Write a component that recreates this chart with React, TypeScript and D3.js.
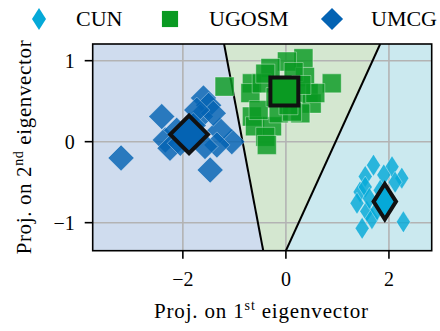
import React from "react";
import * as d3 from "d3";

// Projections of each sample on the first two eigenvectors
const umcgX = [-3.2, -2.41, -1.6, -1.5, -1.47, -1.05, -2.34, -2.25, -1.28, -1.34, -1.66, -1.41, -2.12, -2.05, -1.57, -1.73, -1.95, -1.8];
const umcgY = [-0.2, 0.31, 0.54, 0.45, -0.35, 0.0, 0.02, -0.08, 0.14, -0.04, 0.31, 0.35, 0.14, -0.02, -0.06, 0.39, 0.05, 0.2];
const ugosmX = [-1.19, 0.89, 0.34, 0.02, -0.3, -0.66, -0.69, -0.47, 0.37, 0.44, 0.5, 0.28, -0.66, -0.6, -0.27, -0.4, -0.37, -0.53, -0.14, 0.12, 0.57, -0.4, 0.15, 0.05, -0.2, 0.3];
const ugosmY = [0.68, 0.72, 1.03, 0.99, 0.91, 0.72, 0.6, 0.72, 0.8, 0.6, 0.47, 0.35, 0.31, 0.19, 0.19, 0.06, -0.04, 0.39, 0.35, 0.37, 0.6, 0.84, 0.86, 0.45, 0.55, 0.7];
const cunX = [1.7, 2.06, 2.25, 1.54, 1.9, 1.44, 1.38, 1.54, 1.57, 1.48, 1.67, 2.28, 1.77, 1.83, 1.62, 2.12];
const cunY = [-0.29, -0.31, -0.45, -0.43, -0.41, -0.62, -0.76, -0.56, -0.86, -1.07, -0.95, -0.99, -0.84, -0.6, -0.7, -0.5];

// Class centroids
const centroidX = { CUN: 1.92, UGOSM: -0.03, UMCG: -1.88 };
const centroidY = { CUN: -0.74, UGOSM: 0.62, UMCG: 0.09 };

// Decision boundaries: [x at top, y top, x at bottom, y bottom]
const leftBoundary = [-1.2, 1.206, -0.44, -1.346];
const rightBoundary = [1.83, 1.206, 0.0, -1.346];

const xTicks = [-2, 0, 2];
const yTicks = [-1, 0, 1];
const xDomain = [-3.75, 2.83];
const yDomain = [-1.346, 1.206];

const classes = ["CUN", "UGOSM", "UMCG"];
const colors: Record<string, string> = { CUN: "#05a9d8", UGOSM: "#0a9a22", UMCG: "#0463b3" };
const regionFill = { left: "#cfdcee", mid: "#d4e7d0", right: "#cbe9ef" };

const W = 440;
const H = 331;
const FONT = "Liberation Serif, DejaVu Serif, serif";
const TICK = 8;

function markerPath(cls: string, scale: number): string {
  if (cls === "CUN") {
    const w = 7 * scale, h = 11 * scale;
    return `M0,${-h}L${w},0L0,${h}L${-w},0Z`;
  }
  if (cls === "UGOSM") {
    const s = 9.5 * scale;
    return `M${-s},${-s}H${s}V${s}H${-s}Z`;
  }
  const d = 13 * scale;
  return `M0,${-d}L${d},0L0,${d}L${-d},0Z`;
}

const fmt = (t: number) => (t < 0 ? "\u2212" + Math.abs(t) : String(t));

export default function App() {
  const x = d3.scaleLinear().domain(xDomain).range([92.7, 431.7]);
  const y = d3.scaleLinear().domain(yDomain).range([250.7, 44]);
  const [x0, x1] = x.range();
  const [y0, y1] = y.range();

  const lb = [[x(leftBoundary[0]), y(leftBoundary[1])], [x(leftBoundary[2]), y(leftBoundary[3])]];
  const rb = [[x(rightBoundary[0]), y(rightBoundary[1])], [x(rightBoundary[2]), y(rightBoundary[3])]];
  const poly = (pts: number[][]) => "M" + pts.map((p) => p.join(",")).join("L") + "Z";

  const series = [
    { cls: "UMCG", xs: umcgX, ys: umcgY },
    { cls: "UGOSM", xs: ugosmX, ys: ugosmY },
    { cls: "CUN", xs: cunX, ys: cunY },
  ];

  const legendPos: Record<string, [number, number]> = { CUN: [39, 76], UGOSM: [170, 209], UMCG: [332, 371] };
  const legendScale: Record<string, number> = { CUN: 1.0, UGOSM: 0.85, UMCG: 0.85 };

  return (
    <svg width={W} height={H} style={{ position: "absolute", left: 0, top: 0, background: "#fff", fontFamily: FONT }}>
      <defs>
        <clipPath id="plotClip">
          <rect x={x0} y={y1} width={x1 - x0} height={y0 - y1} />
        </clipPath>
      </defs>
      {/* decision regions */}
      <g clipPath="url(#plotClip)">
        <path d={poly([[x0, y1], lb[0], lb[1], [x0, y0]])} fill={regionFill.left} />
        <path d={poly([lb[0], rb[0], rb[1], lb[1]])} fill={regionFill.mid} />
        <path d={poly([rb[0], [x1, y1], [x1, y0], rb[1]])} fill={regionFill.right} />
        {xTicks.map((t) => (
          <line key={"gx" + t} x1={x(t)} x2={x(t)} y1={y0} y2={y1} stroke="#b3b3b3" strokeWidth={1.6} />
        ))}
        {yTicks.map((t) => (
          <line key={"gy" + t} x1={x0} x2={x1} y1={y(t)} y2={y(t)} stroke="#b3b3b3" strokeWidth={1.6} />
        ))}
        <line x1={lb[0][0]} y1={lb[0][1]} x2={lb[1][0]} y2={lb[1][1]} stroke="#000" strokeWidth={2} />
        <line x1={rb[0][0]} y1={rb[0][1]} x2={rb[1][0]} y2={rb[1][1]} stroke="#000" strokeWidth={2} />
        {series.map((s) => (
          <g key={s.cls}>
            {s.xs.map((v, i) => (
              <path
                key={i}
                d={markerPath(s.cls, 1)}
                transform={`translate(${x(v)},${y(s.ys[i])})`}
                fill={colors[s.cls]}
                fillOpacity={0.82}
                stroke="#ffffff"
                strokeOpacity={0.6}
                strokeWidth={0.6}
              />
            ))}
          </g>
        ))}
        {classes.map((c) => (
          <path
            key={"c" + c}
            d={markerPath(c, c === "UGOSM" ? 1.47 : c === "CUN" ? 1.6 : 1.45)}
            transform={`translate(${x(centroidX[c as keyof typeof centroidX])},${y(centroidY[c as keyof typeof centroidY])})`}
            fill={colors[c]}
            stroke="#111"
            strokeWidth={4}
            strokeLinejoin="miter"
          />
        ))}
      </g>
      <rect x={x0} y={y1} width={x1 - x0} height={y0 - y1} fill="none" stroke="#000" strokeWidth={1.6} />
      {/* axes */}
      {xTicks.map((t) => (
        <g key={"tx" + t}>
          <line x1={x(t)} x2={x(t)} y1={y0} y2={y0 + TICK} stroke="#000" strokeWidth={1.6} />
          <text x={x(t)} y={y0 + 35} textAnchor="middle" fontSize={20}>
            {fmt(t)}
          </text>
        </g>
      ))}
      {yTicks.map((t) => (
        <g key={"ty" + t}>
          <line x1={x0 - TICK} x2={x0} y1={y(t)} y2={y(t)} stroke="#000" strokeWidth={1.6} />
          <text x={x0 - 18} y={y(t) + 7} textAnchor="end" fontSize={20}>
            {fmt(t)}
          </text>
        </g>
      ))}
      <text x={261} y={318} textAnchor="middle" fontSize={21} textLength={214} lengthAdjust="spacing">
        Proj. on 1<tspan fontSize={14} dy={-8}>st</tspan>
        <tspan dy={8}> eigenvector</tspan>
      </text>
      <text
        transform={`translate(31,${(y0 + y1) / 2}) rotate(-90)`}
        textAnchor="middle"
        fontSize={21}
        textLength={214}
        lengthAdjust="spacing"
      >
        Proj. on 2<tspan fontSize={14} dy={-8}>nd</tspan>
        <tspan dy={8}> eigenvector</tspan>
      </text>
      {/* legend */}
      {classes.map((c) => (
        <g key={"l" + c}>
          <path d={markerPath(c, legendScale[c])} transform={`translate(${legendPos[c][0]},19)`} fill={colors[c]} />
          <text x={legendPos[c][1]} y={26} fontSize={22}>
            {c}
          </text>
        </g>
      ))}
    </svg>
  );
}
